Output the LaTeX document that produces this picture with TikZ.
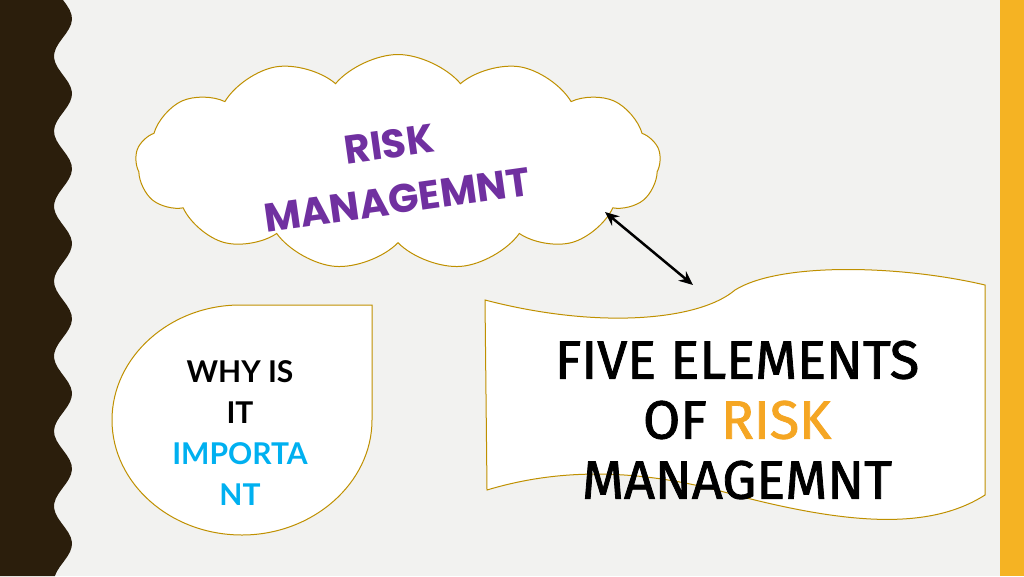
\documentclass[tikz,border=0pt]{standalone}
\usepackage{fontspec}
\setmainfont{Lato}
\newfontfamily\gothic{Poppins}
\newfontfamily\comic[FakeBold=1.5]{Fira Sans}
\usetikzlibrary{shapes.symbols, arrows.meta}
\definecolor{bgc}{HTML}{F2F2F0}
\definecolor{bandc}{HTML}{2B1E0C}
\definecolor{goldc}{HTML}{F5B323}
\definecolor{linec}{HTML}{BF9000}
\definecolor{purplec}{HTML}{7030A0}
\definecolor{bluec}{HTML}{00B0F0}
\definecolor{orangec}{HTML}{F5A623}
\begin{document}
\begin{tikzpicture}[x=1pt,y=-1pt,
    shapeline/.style={draw=linec, line width=1pt, fill=white},
    twoway/.style={{Stealth[length=14pt,width=12pt]}-{Stealth[length=14pt,width=12pt]}, line width=2.5pt}
  ]
  % background and side strips
  \fill[bgc] (0,0) rectangle (1024,576);
  \useasboundingbox (0,0) rectangle (1024,576);
  \fill[goldc] (1000,0) rectangle (1024,576);
  \fill[bandc] (0,0) -- plot[domain=0:576, samples=120, variable=\t] ({63+9*sin(\t*4.8)},\t) -- (0,576) -- cycle;
  % cloud
  \node[cloud, cloud puffs=13, cloud puff arc=100, aspect=2.5, shapeline,
        minimum width=525pt, minimum height=215pt] (cloud) at (398,162) {};
  \node[rotate=8, align=center, text=purplec, font=\gothic\bfseries\fontsize{40}{56}\selectfont]
    (risk) at (393,172) {RISK\\MANAGEMNT};
  % drop
  \draw[shapeline] (240,305) -- (372,305) -- (372,420)
    .. controls (372,483) and (313,535) .. (242,535)
    .. controls (170,535) and (112,483) .. (112,420)
    .. controls (112,357) and (170,305) .. (240,305) -- cycle;
  \node[align=center, font=\fontsize{30}{41}\selectfont\bfseries] (why) at (240,433)
    {WHY IS\\IT\\\textcolor{bluec}{IMPORTA}\\\textcolor{bluec}{NT}};
  % banner
  \draw[shapeline] (485,300) .. controls (600,330) and (700,320) .. (735,290)
    .. controls (780,262) and (900,265) .. (985,285) -- (985,495)
    .. controls (930,530) and (850,525) .. (735,495)
    .. controls (640,468) and (560,468) .. (487,490) -- cycle;
  \node[align=center, font=\comic\fontsize{54}{60}\selectfont] (five) at (737,420)
    {FIVE ELEMENTS\\OF \textcolor{orangec}{RISK}\\MANAGEMNT};
  \coordinate (cloudend) at (605,212);
  \coordinate (bannerend) at (693,285);
  \draw[twoway] (cloudend) -- (bannerend);
\end{tikzpicture}
\end{document}
